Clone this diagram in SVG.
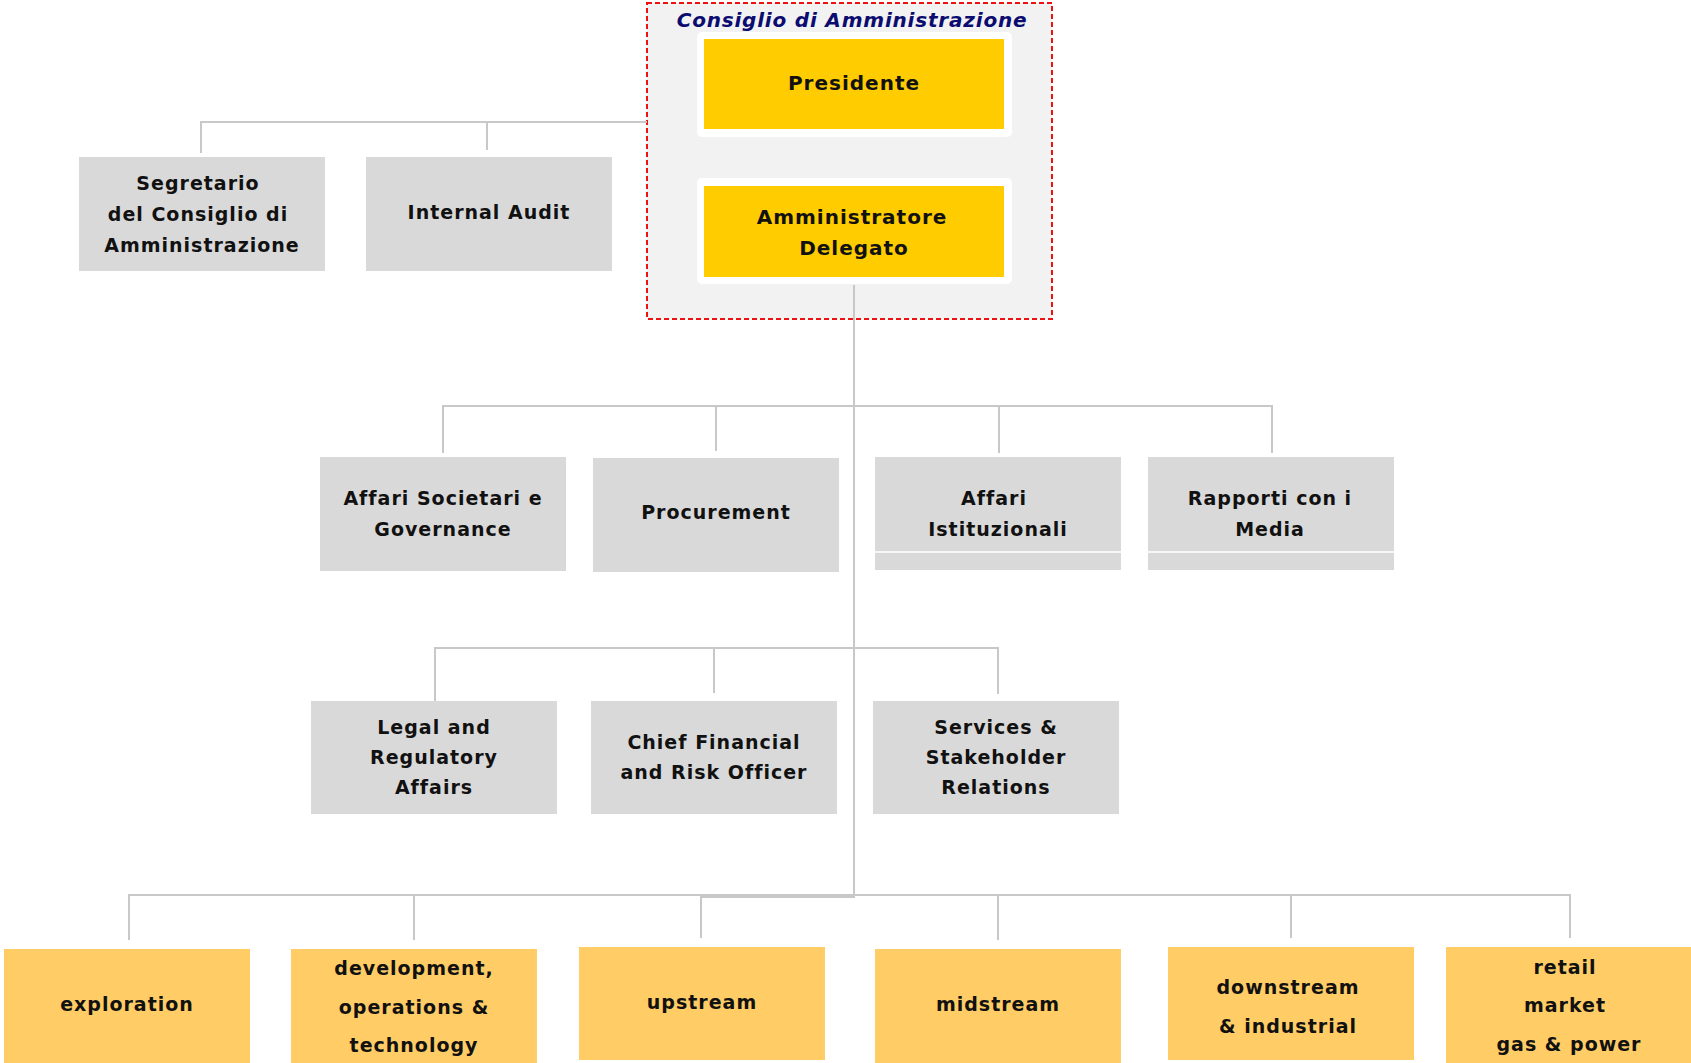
<svg xmlns="http://www.w3.org/2000/svg" width="1691" height="1063" viewBox="0 0 1691 1063">
<style>
.t{font-family:"DejaVu Sans","Liberation Sans",sans-serif;font-weight:bold;font-size:19px;letter-spacing:1px;fill:#111;text-anchor:middle}
.ty{font-size:20px}
.g{fill:#d9d9d9}
.o{fill:#ffcc66}
.y{fill:#ffcc00}
.c{stroke:#c8c8c8;stroke-width:2;fill:none}
</style>
<rect width="1691" height="1063" fill="#fff"/>
<g id="consiglio">
<rect x="647" y="3" width="405" height="316" fill="#f2f2f2" stroke="#ee1111" stroke-width="2" stroke-dasharray="5,3"/>
<text x="852" y="27" font-family="DejaVu Sans,Liberation Sans,sans-serif" font-weight="bold" font-style="italic" font-size="20" letter-spacing="0.8" fill="#0b0b70" text-anchor="middle">Consiglio di Amministrazione</text>
</g>
<g id="connectors">
<path class="c" d="M647 122H201V153M487 122V150"/>
<path class="c" d="M854 285V897H701V938"/>
<path class="c" d="M443 453V406H1272V453M716 406V451M999 406V453"/>
<path class="c" d="M435 701V648H998V694M714 648V693"/>
<path class="c" d="M129 940V895H1570V938M414 895V940M998 895V940M1291 895V938"/>
</g>
<g id="presidente">
<rect x="697" y="32" width="315" height="105" rx="5" fill="#fff"/>
<rect class="y" x="704" y="39" width="300" height="90"/>
<text class="t ty" x="854" y="90">Presidente</text>
</g>
<g id="amministratore">
<rect x="697" y="178" width="315" height="106" rx="5" fill="#fff"/>
<rect class="y" x="704" y="186" width="300" height="91"/>
<text class="t ty" x="852" y="224">Amministratore</text>
<text class="t ty" x="854" y="255">Delegato</text>
</g>
<g id="segretario">
<rect class="g" x="79" y="157" width="246" height="114"/>
<text class="t" x="198" y="190">Segretario</text>
<text class="t" x="198" y="221">del Consiglio di</text>
<text class="t" x="202" y="252">Amministrazione</text>
</g>
<g id="internal-audit">
<rect class="g" x="366" y="157" width="246" height="114"/>
<text class="t" x="489" y="219">Internal Audit</text>
</g>
<g id="affari-societari">
<rect class="g" x="320" y="457" width="246" height="114"/>
<text class="t" x="443" y="505">Affari Societari e</text>
<text class="t" x="443" y="536">Governance</text>
</g>
<g id="procurement">
<rect class="g" x="593" y="458" width="246" height="114"/>
<text class="t" x="716" y="519">Procurement</text>
</g>
<g id="affari-istituzionali">
<rect class="g" x="875" y="457" width="246" height="113"/>
<line x1="875" y1="552" x2="1121" y2="552" stroke="#fff" stroke-width="1.5"/>
<text class="t" x="994" y="505">Affari</text>
<text class="t" x="998" y="536">Istituzionali</text>
</g>
<g id="rapporti-media">
<rect class="g" x="1148" y="457" width="246" height="113"/>
<line x1="1148" y1="552" x2="1394" y2="552" stroke="#fff" stroke-width="1.5"/>
<text class="t" x="1270" y="505">Rapporti con i</text>
<text class="t" x="1270" y="536">Media</text>
</g>
<g id="legal">
<rect class="g" x="311" y="701" width="246" height="113"/>
<text class="t" x="434" y="734">Legal and</text>
<text class="t" x="434" y="764">Regulatory</text>
<text class="t" x="434" y="794">Affairs</text>
</g>
<g id="cfo">
<rect class="g" x="591" y="701" width="246" height="113"/>
<text class="t" x="714" y="749">Chief Financial</text>
<text class="t" x="714" y="779">and Risk Officer</text>
</g>
<g id="services">
<rect class="g" x="873" y="701" width="246" height="113"/>
<text class="t" x="996" y="734">Services &amp;</text>
<text class="t" x="996" y="764">Stakeholder</text>
<text class="t" x="996" y="794">Relations</text>
</g>
<g id="exploration">
<rect class="o" x="4" y="949" width="246" height="114"/>
<text class="t" x="127" y="1011">exploration</text>
</g>
<g id="development">
<rect class="o" x="291" y="949" width="246" height="114"/>
<text class="t" x="414" y="975">development,</text>
<text class="t" x="414" y="1014">operations &amp;</text>
<text class="t" x="414" y="1052">technology</text>
</g>
<g id="upstream">
<rect class="o" x="579" y="947" width="246" height="113"/>
<text class="t" x="702" y="1009">upstream</text>
</g>
<g id="midstream">
<rect class="o" x="875" y="949" width="246" height="114"/>
<text class="t" x="998" y="1011">midstream</text>
</g>
<g id="downstream">
<rect class="o" x="1168" y="947" width="246" height="113"/>
<text class="t" x="1288" y="994">downstream</text>
<text class="t" x="1288" y="1033">&amp; industrial</text>
</g>
<g id="retail">
<rect class="o" x="1446" y="947" width="245" height="116"/>
<text class="t" x="1565" y="974">retail</text>
<text class="t" x="1565" y="1012">market</text>
<text class="t" x="1569" y="1051">gas &amp; power</text>
</g>
</svg>
